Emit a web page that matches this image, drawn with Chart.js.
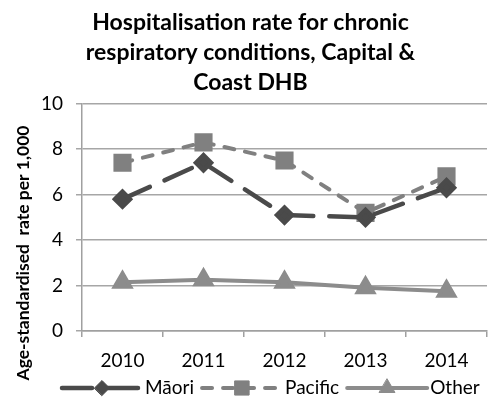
<!DOCTYPE html>
<html>
<head>
<meta charset="utf-8">
<script src="https://cdn.jsdelivr.net/npm/chart.js@4/dist/chart.umd.min.js"></script>
<style>
  html, body { margin: 0; padding: 0; background: #fff; }
  #wrap { width: 501px; height: 405px; position: relative; }
</style>
</head>
<body>
<div id="wrap"><canvas id="chart"></canvas></div>
<script>
const years = ['2010', '2011', '2012', '2013', '2014'];
const maori = [5.8, 7.4, 5.1, 5.0, 6.3];
const pacific = [7.4, 8.3, 7.5, 5.2, 6.8];
const other = [2.15, 2.25, 2.15, 1.9, 1.75];
const yTicks = [0, 2, 4, 6, 8, 10];

const titleLines = ['Hospitalisation rate for chronic', 'respiratory conditions, Capital &', 'Coast DHB'];
const yTitle = 'Age-standardised  rate per 1,000';

const FONT = 'Lato, "Open Sans", sans-serif';

// y axis title, drawn rotated at the far left
const yTitlePlugin = {
    id: 'yTitle',
    afterDraw(chart) {
        const c = chart.ctx;
        c.save();
        c.translate(23, 253);
        c.rotate(-Math.PI / 2);
        c.font = 'bold 17.5px ' + FONT;
        c.fillStyle = '#000';
        c.textAlign = 'center';
        c.textBaseline = 'middle';
        c.fillText(yTitle, 0, 0);
        c.restore();
    }
};

// Excel-style legend: line sample with marker in the middle
const legendPlugin = {
    id: 'lineLegend',
    afterDraw(chart) {
        const c = chart.ctx;
        const y = 388;
        let x = 62;
        c.save();
        c.font = '19px ' + FONT;
        chart.data.datasets.forEach((ds) => {
            const len = 80;
            c.strokeStyle = ds.borderColor;
            c.lineWidth = ds.borderWidth;
            c.lineCap = 'round';
            c.setLineDash(ds.borderDash || []);
            c.beginPath();
            c.moveTo(x, y);
            c.lineTo(x + len, y);
            c.stroke();
            c.setLineDash([]);
            c.fillStyle = ds.pointBackgroundColor;
            c.strokeStyle = ds.pointBorderColor;
            c.lineWidth = 1;
            Chart.helpers.drawPoint(c, {
                pointStyle: ds.pointStyle,
                radius: ds.pointRadius,
                rotation: 0,
                borderWidth: 1
            }, x + len / 2, y);
            c.fillStyle = '#000';
            c.textAlign = 'left';
            c.textBaseline = 'middle';
            c.fillText(ds.label, x + len + 3, y);
            x += len + 3 + c.measureText(ds.label).width + 8;
        });
        c.restore();
    }
};

new Chart(document.getElementById('chart'), {
    type: 'line',
    data: {
        labels: years,
        datasets: [{
            label: 'Māori',
            data: maori,
            borderColor: '#4a4a4a',
            borderWidth: 4.5,
            borderDash: [30, 16],
            borderCapStyle: 'round',
            pointStyle: 'rectRot',
            pointRadius: 7.5,
            pointBackgroundColor: '#4a4a4a',
            pointBorderColor: '#4a4a4a',
            tension: 0
        }, {
            label: 'Pacific',
            data: pacific,
            borderColor: '#808080',
            borderWidth: 4,
            borderDash: [10, 11],
            borderCapStyle: 'round',
            pointStyle: 'rect',
            pointRadius: 10,
            pointBackgroundColor: '#808080',
            pointBorderColor: '#808080',
            tension: 0
        }, {
            label: 'Other',
            data: other,
            borderColor: '#8c8c8c',
            borderWidth: 4,
            borderCapStyle: 'round',
            pointStyle: 'triangle',
            pointRadius: 9,
            pointBackgroundColor: '#8c8c8c',
            pointBorderColor: '#8c8c8c',
            tension: 0
        }]
    },
    options: {
        responsive: true,
        maintainAspectRatio: false,
        animation: false,
        layout: { padding: { left: 0, right: 0, top: 0, bottom: 30 } },
        scales: {
            x: {
                offset: true,
                afterFit: (s) => { s.height = 44; },
                grid: {
                    offset: true,
                    drawOnChartArea: false,
                    drawTicks: true,
                    tickLength: 6,
                    color: '#a0a0a0',
                    lineWidth: 1.5
                },
                border: { color: '#a0a0a0', width: 1.5 },
                ticks: { color: '#000', font: { family: FONT, size: 19 }, padding: 12, maxRotation: 0 }
            },
            y: {
                min: 0,
                max: 10,
                afterFit: (s) => { s.width = 82; },
                afterBuildTicks: (s) => { s.ticks = yTicks.map(v => ({ value: v })); },
                grid: {
                    color: '#a6a6a6',
                    lineWidth: 1.5,
                    drawTicks: true,
                    tickLength: 6
                },
                border: { color: '#a0a0a0', width: 1.5 },
                ticks: { color: '#000', font: { family: FONT, size: 19 }, padding: 13 }
            }
        },
        plugins: {
            legend: { display: false },
            tooltip: { enabled: false },
            title: {
                display: true,
                text: titleLines,
                color: '#000',
                font: { family: FONT, size: 23, weight: 'bold', lineHeight: 1.3 },
                padding: { top: 8, bottom: 6 }
            }
        }
    },
    plugins: [yTitlePlugin, legendPlugin]
});
</script>
</body>
</html>
